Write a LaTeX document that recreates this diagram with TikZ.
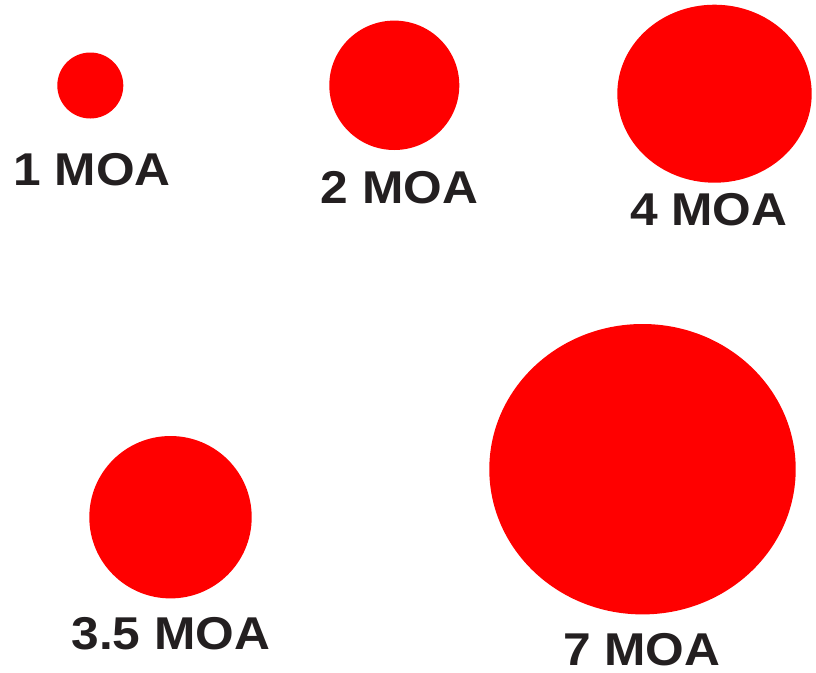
\documentclass[tikz,border=0pt]{standalone}
\usepackage{fontspec}
\setmainfont{Liberation Sans}[FakeStretch=1.08]
\definecolor{dotred}{HTML}{FF0000}
\definecolor{labelgray}{HTML}{231F20}
\begin{document}
\begin{tikzpicture}[x=1pt,y=-1pt,
  dot/.style={fill=dotred,draw=none},
  lbl/.style={anchor=base,inner sep=0pt,text=labelgray,font=\fontsize{46}{46}\selectfont\bfseries}]
\useasboundingbox[fill=white] (0,0) rectangle (816,672);
\fill[dot] (90.3,85.5) ellipse [x radius=33, y radius=33];
\fill[dot] (394.3,85.3) ellipse [x radius=65, y radius=64.7];
\fill[dot] (714.5,93.7) ellipse [x radius=97.2, y radius=89];
\fill[dot] (170.5,517.2) ellipse [x radius=81.2, y radius=81.2];
\fill[dot] (642.5,469.2) ellipse [x radius=153.2, y radius=145.2];
\node[lbl] (l1) at (92,185.7) {1 MOA};
\node[lbl] (l2) at (399.5,203) {2 MOA};
\node[lbl] (l4) at (708.7,225) {4 MOA};
\node[lbl] (l35) at (170.8,649) {3.5 MOA};
\node[lbl] (l7) at (641.7,665) {7 MOA};
\end{tikzpicture}
\end{document}
